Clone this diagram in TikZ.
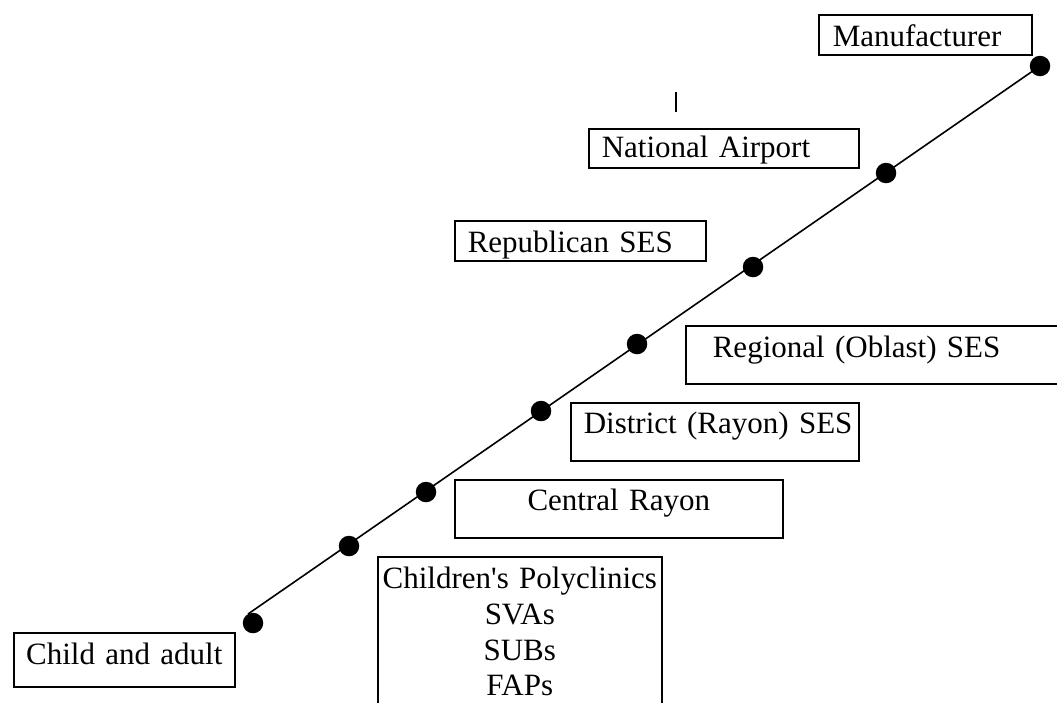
\documentclass[tikz,border=0pt]{standalone}
\usepackage{fontspec}
\setmainfont{Liberation Serif}
\newcommand{\straightquote}{\XeTeXglyph\XeTeXcharglyph"27\relax}
\begin{document}
\begin{tikzpicture}[x=1pt,y=-1pt,
  box/.style={draw=black,line width=1.6pt,anchor=north west,inner ysep=0pt,
    font=\fontsize{31}{35.7}\selectfont},
  lbox/.style={box,align=left},
  cbox/.style={box,align=center,inner xsep=0pt},
  dot/.style={circle,fill=black,inner sep=0pt,minimum size=20.5pt}]
\useasboundingbox (0,0) rectangle (1057,702);
\clip (0,0) rectangle (1057,702);
% boxes
\node[lbox,inner xsep=14pt,text width=185pt,text height=32pt,text depth=8pt] (man) at (818,14) {\mbox{Manufacturer}};
\node[lbox,inner xsep=13pt,text width=244pt,text height=29pt,text depth=10pt] (nat) at (588,128) {\mbox{National Airport}};
\node[lbox,inner xsep=13pt,text width=225pt,text height=32pt,text depth=8pt] (rep) at (454,220) {\mbox{Republican SES}};
\node[lbox,inner xsep=27pt,text width=341pt,text height=32pt,text depth=26pt] (reg) at (685,325) {\mbox{Regional (Oblast) SES}};
\node[lbox,inner xsep=13pt,text width=262pt,text height=31pt,text depth=27pt] (dis) at (570,402) {\mbox{District (Rayon) SES}};
\node[cbox,text width=328pt,text height=31pt,text depth=27pt] (cen) at (454,479) {Central Rayon};
\node[cbox,text width=284pt,text height=32pt,text depth=140pt] (chi) at (377,556) {Children\straightquote s Polyclinics\\SVAs\\SUBs\\FAPs};
\node[cbox,text width=221pt,text height=32pt,text depth=22pt] (ca) at (13,632) {Child and adult};
% dots
\node[dot] (d1) at (253,623) {};
\node[dot] (d2) at (349,546) {};
\node[dot] (d3) at (426,492) {};
\node[dot] (d4) at (541,411) {};
\node[dot] (d5) at (637,344) {};
\node[dot] (d6) at (753,267) {};
\node[dot] (d7) at (886,173) {};
\node[dot] (d8) at (1040,66) {};
\coordinate (ls) at (248,614);
\draw[line width=1.6pt] (ls) -- (d8.center);
% tick mark
\coordinate (t1) at (676,92);
\coordinate (t2) at (676,112);
\draw[line width=2pt] (t1) -- (t2);
\end{tikzpicture}
\end{document}
